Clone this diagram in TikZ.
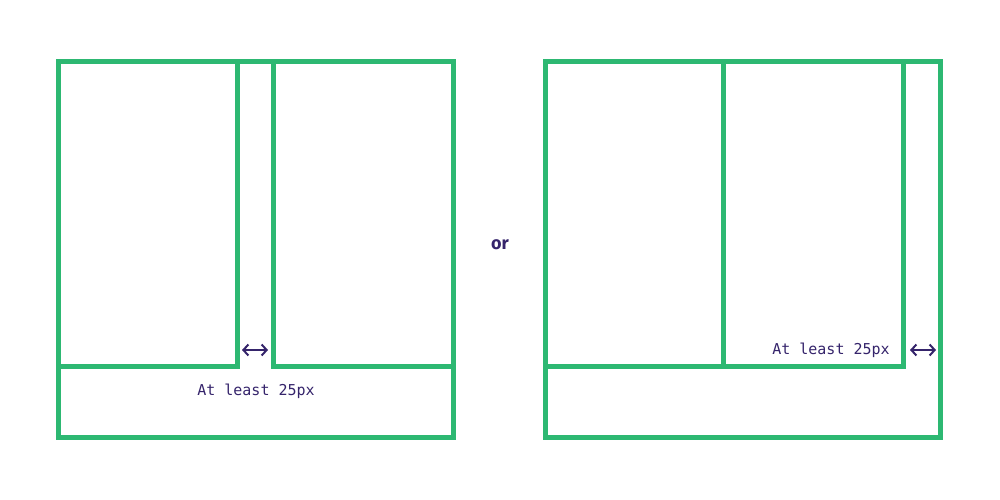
\documentclass[tikz,border=0pt]{standalone}
\usepackage{fontspec}
\setmainfont{Fira Sans}
\setmonofont{DejaVu Sans Mono}
\usetikzlibrary{arrows.meta}
\definecolor{grn}{HTML}{2DB872}
\definecolor{pur}{HTML}{35246B}
\tikzset{
  box/.style={draw=grn, line width=5pt, line join=miter},
  gap/.style={draw=pur, line width=2pt, {Straight Barb[length=5pt,width=11pt]}-{Straight Barb[length=5pt,width=11pt]}},
  lbl/.style={text=pur, font=\ttfamily\fontsize{15}{17}\selectfont, inner sep=0pt},
}
\begin{document}
\begin{tikzpicture}[x=1pt,y=-1pt]
\useasboundingbox (0,0) rectangle (1000,500);
% left panel
\draw[box] (58,62) rectangle (453,437);
\draw[box] (58,62) rectangle (237,366);
\draw[box] (273,62) rectangle (453,366);
\coordinate (la) at (242,350);
\coordinate (lb) at (268,350);
\draw[gap] (la) -- (lb);
\node[lbl] (lt) at (256,391) {At least 25px};
% or
\node[text=pur, font=\bfseries\fontsize{18}{21}\selectfont] (or) at (500,245) {or};
% right panel
\draw[box] (545,62) rectangle (940,437);
\draw[box] (545,62) rectangle (723,366);
\draw[box] (723,62) rectangle (903,366);
\coordinate (ra) at (910,350);
\coordinate (rb) at (936,350);
\draw[gap] (ra) -- (rb);
\node[lbl] (rt) at (831,350) {At least 25px};
\end{tikzpicture}
\end{document}
